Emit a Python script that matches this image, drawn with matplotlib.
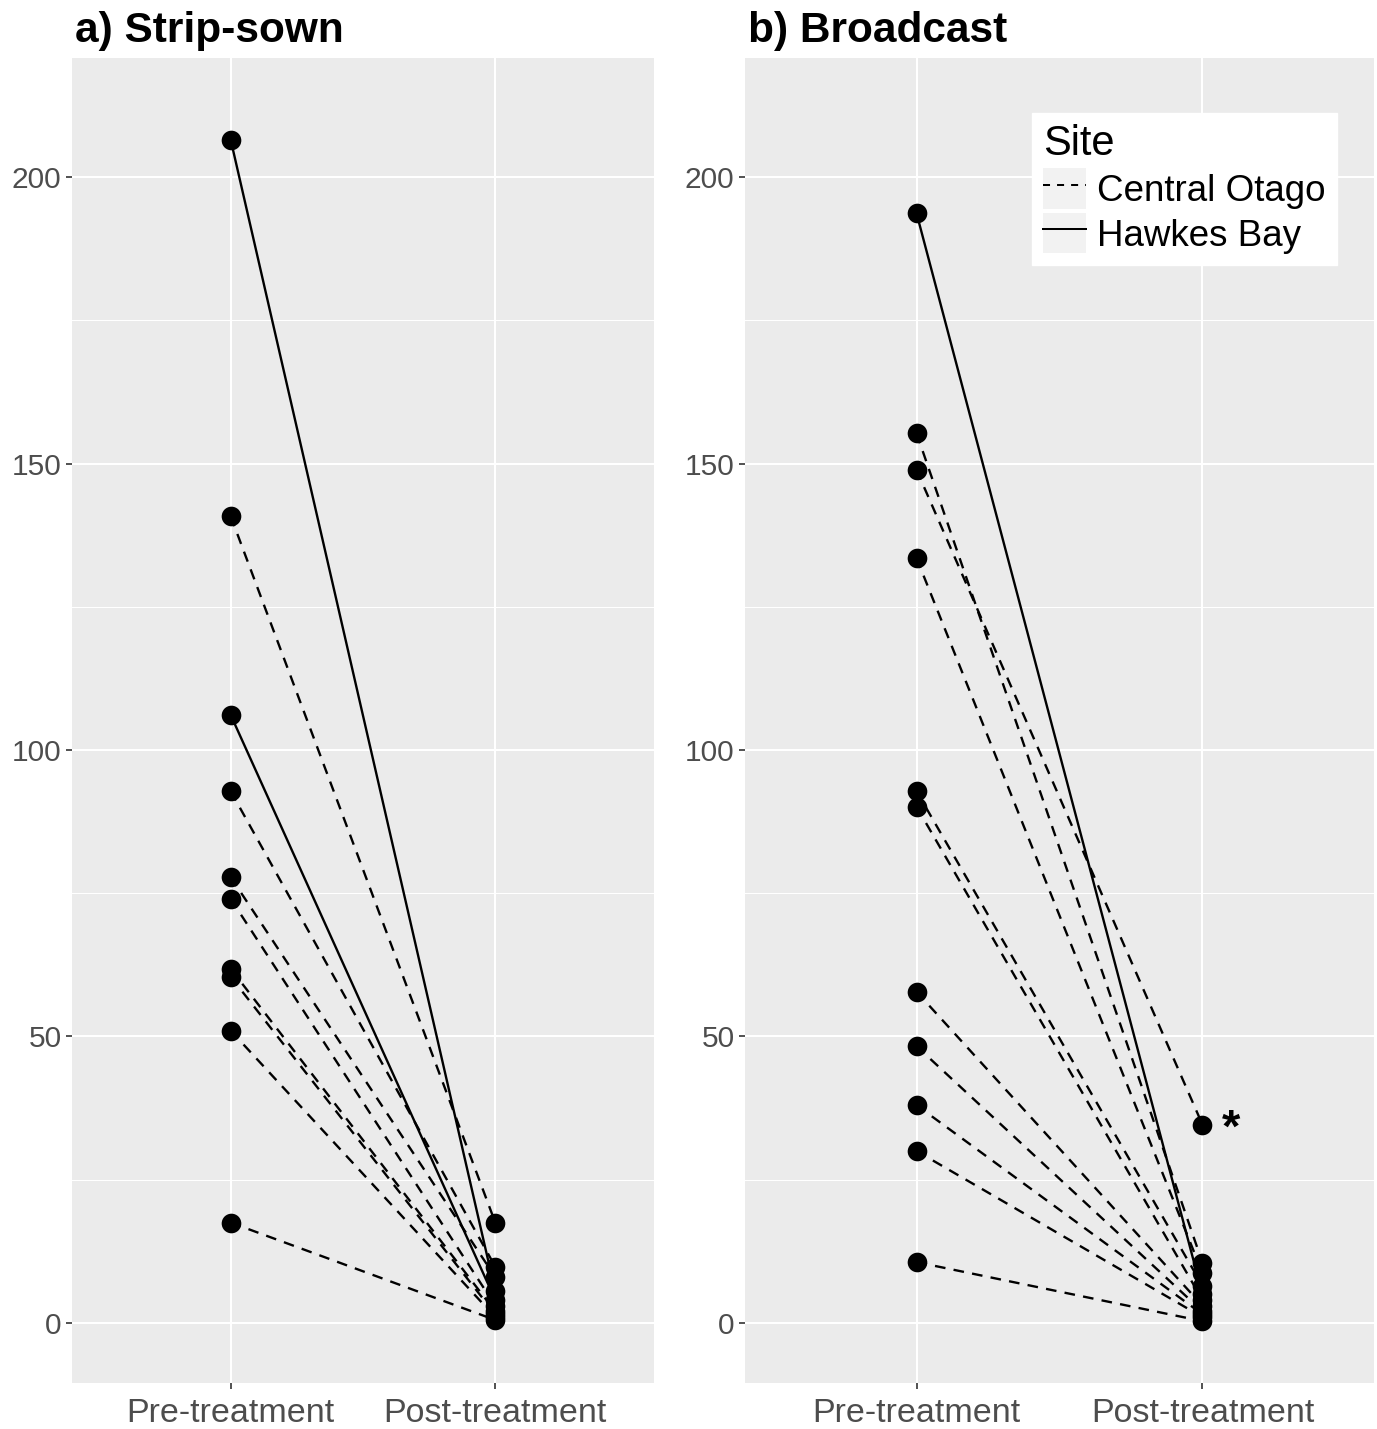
import matplotlib.pyplot as plt
from matplotlib.lines import Line2D
from matplotlib.patches import Rectangle
from matplotlib.legend_handler import HandlerTuple

plt.rcParams['font.family'] = ['Liberation Sans', 'DejaVu Sans']

groups = ["Pre-treatment", "Post-treatment"]

# a) Strip-sown
strip_pre = [206.5, 140.8, 106.1, 92.8, 77.8, 74.0, 61.8, 60.4, 51.0, 17.5]
strip_post = [5.5, 17.5, 4.0, 9.8, 8.0, 3.0, 2.0, 1.5, 1.0, 0.5]
strip_site = ["HB", "CO", "HB", "CO", "CO", "CO", "CO", "CO", "CO", "CO"]

# b) Broadcast
broad_pre = [193.7, 155.3, 148.9, 133.5, 92.8, 90.1, 57.8, 48.3, 38.0, 30.0, 10.6]
broad_post = [5.0, 10.5, 34.6, 8.7, 6.5, 4.0, 3.0, 2.0, 1.5, 1.0, 0.3]
broad_site = ["HB", "CO", "CO", "CO", "CO", "CO", "CO", "CO", "CO", "CO", "CO"]

W, H = 1377, 1429
fig = plt.figure(figsize=(W / 100, H / 100), dpi=100)
LW = 1.7
DASH = (0, (4.5, 3.5))


def panel(x0, x1, title, pre, post, site):
    ax = fig.add_axes([x0 / W, 1 - 1383 / H, (x1 - x0) / W, (1383 - 58) / H])
    ax.set_facecolor("#EBEBEB")
    for s in ax.spines.values():
        s.set_visible(False)
    ax.set_xlim(-0.6, 1.6)
    ax.set_ylim(-10.5, 220.8)
    ax.set_yticks([0, 50, 100, 150, 200])
    ax.set_yticks([25, 75, 125, 175], minor=True)
    ax.set_xticks([0, 1])
    ax.set_xticklabels(groups)
    ax.grid(True, which="major", color="white", lw=1.5)
    ax.grid(True, which="minor", axis="y", color="white", lw=0.75)
    ax.set_axisbelow(True)
    ax.tick_params(which="major", length=4.5, width=1.2, color="#333333",
                   labelcolor="#4D4D4D")
    ax.tick_params(axis="y", labelsize=21.5, pad=3)
    ax.tick_params(axis="x", labelsize=24.5, pad=6)
    ax.tick_params(which="minor", length=0)
    for a, b, s in zip(pre, post, site):
        ls = DASH if s == "CO" else "-"
        ax.plot([0, 1], [a, b], color="black", lw=LW, ls=ls, zorder=2)
    ax.scatter([0] * len(pre), pre, s=200, color="black", zorder=3, lw=0)
    ax.scatter([1] * len(post), post, s=200, color="black", zorder=3, lw=0)
    fig.text((x0 + 3) / W, 1 - 42 / H, title, fontsize=30.5,
             fontweight="bold", ha="left", va="baseline")
    return ax


ax1 = panel(72, 654, "a) Strip-sown", strip_pre, strip_post, strip_site)
ax2 = panel(745, 1374, "b) Broadcast", broad_pre, broad_post, broad_site)

ax2.text(1.1, 34.6, "*", fontsize=34, fontweight="bold", ha="center",
         va="center_baseline")

key_bg = dict(facecolor="#F2F2F2", edgecolor="none")
handles = [(Rectangle((0, 0), 1, 1, **key_bg),
            Line2D([], [], color="black", lw=LW * 0.85, ls=(0, (3.5, 3.5)))),
           (Rectangle((0, 0), 1, 1, **key_bg),
            Line2D([], [], color="black", lw=LW * 0.85, ls="-"))]
leg = fig.legend(handles, ["Central Otago", "Hawkes Bay"], title="Site",
                 handler_map={tuple: HandlerTuple(ndivide=1, pad=0)},
                 loc="upper left", bbox_to_anchor=(1032 / W, 1 - 113 / H),
                 bbox_transform=fig.transFigure, fontsize=26.5,
                 title_fontsize=30, frameon=True, fancybox=False,
                 edgecolor="white", facecolor="white", framealpha=1,
                 handlelength=1.17, handleheight=1.3, handletextpad=0.3,
                 labelspacing=0.12, borderpad=0.3, borderaxespad=0,
                 alignment="left")

fig.savefig("out.png", dpi=100)
